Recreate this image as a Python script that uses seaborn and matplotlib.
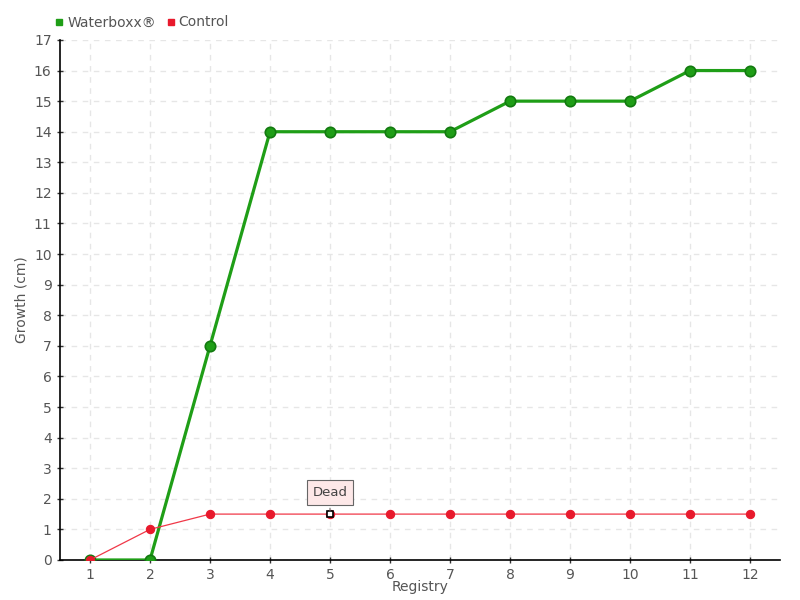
import pandas as pd
import matplotlib.pyplot as plt
import seaborn as sns
from matplotlib.lines import Line2D

# data
registry = [1, 2, 3, 4, 5, 6, 7, 8, 9, 10, 11, 12]
waterboxx = [0, 0, 7, 14, 14, 14, 14, 15, 15, 15, 16, 16]
control = [0, 1, 1.5, 1.5, 1.5, 1.5, 1.5, 1.5, 1.5, 1.5, 1.5, 1.5]
series_names = ['Waterboxx®', 'Control']
note_index = 4
note_text = 'Dead'

green = '#1f9e17'
red = '#e8192c'

sns.set_theme(style="white")
plt.rcParams['font.family'] = ['DejaVu Sans']

fig = plt.figure(figsize=(8, 6), dpi=100)
ax = fig.add_axes([0.075, 0.0667, 0.9, 0.8667])

df = pd.DataFrame({'Registry': registry, 'Waterboxx': waterboxx, 'Control': control})

sns.lineplot(data=df, x='Registry', y='Waterboxx', ax=ax, color=green, linewidth=2.3,
             marker='o', markersize=7.5, markerfacecolor=green, markeredgecolor='#137a10',
             markeredgewidth=1.2, zorder=3)
sns.lineplot(data=df, x='Registry', y='Control', ax=ax, color='#f03848', linewidth=0.9,
             marker='o', markersize=6, markerfacecolor=red, markeredgecolor=red, zorder=4)

# highlighted point
ax.plot(registry[note_index], control[note_index], marker='s', markersize=4,
        markerfacecolor='white', markeredgecolor='black', markeredgewidth=1.2, zorder=5)
ax.annotate(note_text, xy=(registry[note_index], control[note_index]),
            xytext=(0, 15.5), textcoords='offset points', ha='center', va='center',
            fontsize=9.5, color='#444444',
            bbox=dict(boxstyle='square,pad=0.45', fc='#fde8e8', ec='#666666', lw=0.8),
            arrowprops=dict(arrowstyle='-', color='#666666', lw=0.8), zorder=6)

ax.set_xlim(0.5, 12.5)
ax.set_ylim(0, 17)
ax.set_xticks(registry)
ax.set_yticks(range(0, 18))
ax.grid(True, color='#e6e6e6', linestyle=(0, (4, 4)), linewidth=1)
ax.set_axisbelow(True)

for s in ['top', 'right']:
    ax.spines[s].set_visible(False)
for s in ['left', 'bottom']:
    ax.spines[s].set_color('black')
    ax.spines[s].set_linewidth(1.2)

ax.tick_params(axis='both', colors='#555555', labelsize=10, length=5, width=1,
               direction='inout', bottom=True, left=True)
ax.tick_params(axis='both', color='#333333')
ax.set_xlabel('Registry', color='#555555', fontsize=10, labelpad=-2)
ax.set_ylabel('Growth (cm)', color='#555555', fontsize=10, labelpad=4)

handles = [Line2D([], [], marker='s', color='none', markerfacecolor=green, markeredgecolor=green, markersize=5),
           Line2D([], [], marker='s', color='none', markerfacecolor=red, markeredgecolor=red, markersize=5)]
fig.legend(handles, series_names, loc='upper left', bbox_to_anchor=(0.05, 0.995), ncol=2,
           frameon=False, fontsize=10, handletextpad=0.05, columnspacing=0.6,
           handlelength=1, labelcolor='#555555')

plt.savefig('out.png', dpi=100)
